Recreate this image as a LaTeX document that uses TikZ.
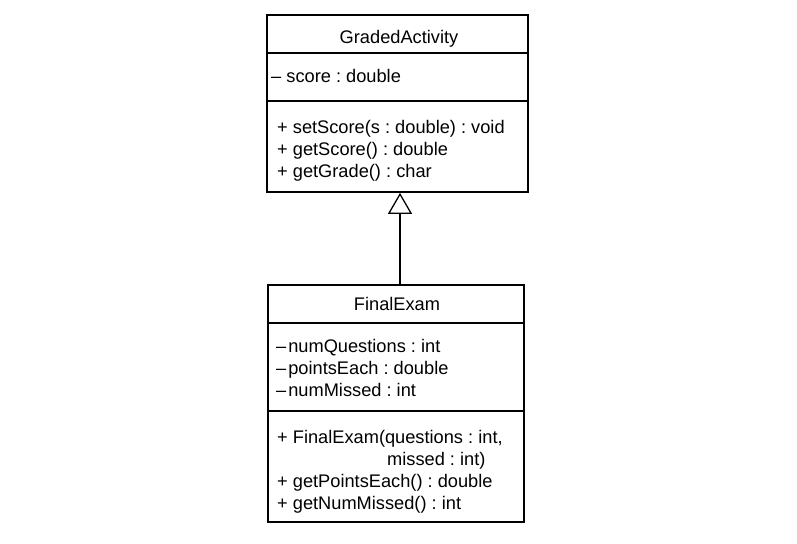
\documentclass[tikz,border=0pt]{standalone}
\usepackage{fontspec}
\setmainfont{Liberation Sans}
\usetikzlibrary{arrows.meta}
\begin{document}
\frenchspacing
\begin{tikzpicture}[x=1bp,y=-1bp,
  txt/.style={inner sep=0pt,anchor=base west,font=\fontsize{18.3}{20}\selectfont},
  ttl/.style={inner sep=0pt,anchor=base,font=\fontsize{18.3}{20}\selectfont},
  classbox/.style={draw,line width=1.7bp,inner sep=0pt},
  sep/.style={line width=1.7bp},
  inherit/.style={line width=1.3bp,-{Triangle[open,width=24bp,length=21bp,line width=1.3bp]}}]
\useasboundingbox (0,0) rectangle (797,544);
% GradedActivity
\node[classbox,minimum width=261bp,minimum height=177bp] (ga) at (397.5,103.5) {};
\draw[sep] (ga.west |- 0,53) -- (ga.east |- 0,53);
\draw[sep] (ga.west |- 0,101) -- (ga.east |- 0,101);
\node[ttl] (gat) at (399,44) {GradedActivity};
\node[txt] (ga1) at (271,83) {– score : double};
\node[txt] (ga2) at (277,134) {+ setScore(s : double) : void};
\node[txt] (ga3) at (277,156) {+ getScore() : double};
\node[txt] (ga4) at (277,178) {+ getGrade() : char};
% FinalExam
\node[classbox,minimum width=256bp,minimum height=237bp] (fe) at (396,403.5) {};
\draw[sep] (fe.west |- 0,323) -- (fe.east |- 0,323);
\draw[sep] (fe.west |- 0,411) -- (fe.east |- 0,411);
\node[ttl] (fet) at (397,311) {FinalExam};
\node[txt] (fe1) at (276,352) {–\kern2bp numQuestions : int};
\node[txt] (fe2) at (276,374) {–\kern2bp pointsEach : double};
\node[txt] (fe3) at (276,396) {–\kern2bp numMissed : int};
\node[txt] (fe4) at (277,443) {+ FinalExam(questions : int,};
\node[txt] (fe5) at (387,465) {missed : int)};
\node[txt] (fe6) at (277,487) {+ getPointsEach() : double};
\node[txt] (fe7) at (277,509) {+ getNumMissed() : int};
% inheritance
\draw[inherit] (fe.north -| 400,0) -- (ga.south -| 400,0);
\end{tikzpicture}
\end{document}
